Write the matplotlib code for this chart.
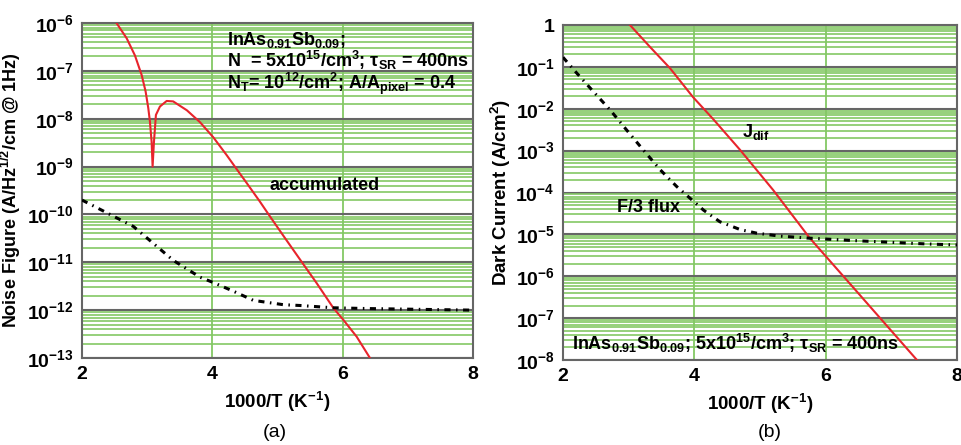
import numpy as np
import matplotlib
matplotlib.use('Agg')
from matplotlib import pyplot as plt
from matplotlib.ticker import LogLocator, FixedLocator, FuncFormatter, NullFormatter

plt.rcParams['font.family'] = ['Liberation Sans', 'DejaVu Sans']
plt.rcParams['font.weight'] = 'bold'
plt.rcParams['axes.labelweight'] = 'bold'
plt.rcParams['mathtext.fontset'] = 'custom'
plt.rcParams['mathtext.rm'] = 'Liberation Sans:bold'
plt.rcParams['mathtext.bf'] = 'Liberation Sans:bold'
plt.rcParams['mathtext.it'] = 'Liberation Sans:bold'
plt.rcParams['mathtext.default'] = 'rm'

# (a) noise figure vs 1000/T
acc_x = [2.53, 2.686, 2.813, 2.916, 2.977, 3.018, 3.043, 3.069, 3.084, 3.105, 3.135,
         3.197, 3.30, 3.40, 3.61, 3.81, 4.015, 4.22, 4.40, 4.53, 4.73, 4.885, 5.09,
         5.40, 5.60, 5.86, 6.01, 6.215, 6.42]
acc_y = [1e-6, 4.8e-7, 2.1e-7, 8.2e-8, 3.7e-8, 1.66e-8, 8.7e-9, 3.3e-9, 1e-9, 3.3e-9,
         1.2e-8, 1.8e-8, 2.35e-8, 2.3e-8, 1.5e-8, 8.5e-9, 4.1e-9, 1.74e-9, 7.9e-10,
         4.5e-10, 1.86e-10, 9.1e-11, 3.6e-11, 9e-12, 3.7e-12, 1.1e-12, 6.3e-13,
         2.8e-13, 1e-13]
flux_a_x = [2.0, 2.79, 3.40, 3.81, 4.01, 4.32, 4.63, 5.09, 5.35, 5.86, 6.37, 8.0]
flux_a_y = [2e-10, 5.6e-11, 1.1e-11, 4.9e-12, 3.8e-12, 2.5e-12, 1.6e-12, 1.3e-12,
            1.25e-12, 1.12e-12, 1.08e-12, 1.0e-12]

# (b) dark current vs 1000/T
jdif_x = [3.02, 3.325, 3.63, 3.98, 4.29, 4.695, 5.20, 5.76, 6.27, 6.83, 7.39]
jdif_y = [1, 0.30, 9.3e-2, 1.9e-2, 5.6e-3, 1.05e-3, 1.15e-4, 8.1e-6, 1e-6,
          1e-7, 1e-8]
flux_b_x = [2.0, 2.21, 2.46, 2.72, 2.97, 3.22, 3.48, 3.73, 3.91, 4.14, 4.39, 4.70,
            4.95, 5.30, 5.76, 6.52, 7.54, 8.0]
flux_b_y = [0.17, 7.1e-2, 2.6e-2, 9.3e-3, 3.1e-3, 1.05e-3, 3.5e-4, 1.4e-4, 7.9e-5,
            3.8e-5, 2.0e-5, 1.3e-5, 1.07e-5, 9.1e-6, 8.1e-6, 7e-6, 5.9e-6, 5.6e-6]

red = '#e8242c'
green = '#84c865'
grey = '#666666'


def fmt_sci(v, pos):
    e = int(round(np.log10(v)))
    if e == 0:
        return '1'
    return '$10^{%d}$' % e


def style_axes(ax, ymin, ymax):
    ax.set_yscale('log')
    ax.set_xlim(2, 8)
    ax.set_ylim(ymin, ymax)
    ax.xaxis.set_major_locator(FixedLocator([2, 4, 6, 8]))
    ax.yaxis.set_major_locator(LogLocator(base=10, numticks=20))
    ax.yaxis.set_minor_locator(LogLocator(base=10, subs=np.arange(2, 10), numticks=20))
    ax.yaxis.set_minor_formatter(NullFormatter())
    ax.yaxis.set_major_formatter(FuncFormatter(fmt_sci))
    ax.grid(True, which='minor', axis='y', color=green, lw=1.2, zorder=0)
    ax.grid(True, which='major', axis='y', color=grey, lw=1.5, zorder=0)
    ax.grid(True, which='major', axis='x', color=green, lw=1.3, zorder=0)
    ax.tick_params(which='both', length=0, labelsize=14, pad=6)
    for s in ax.spines.values():
        s.set_color(grey)
        s.set_linewidth(1.5)
    ax.set_axisbelow(True)


dashdot = (0, (2, 1.8, 0.5, 1.8))

fig = plt.figure(figsize=(9.62, 4.45), dpi=100)

ax1 = fig.add_axes([0.0852, 0.1955, 0.4064, 0.7528])
style_axes(ax1, 1e-13, 1e-6)
ax1.plot(acc_x, acc_y, color=red, lw=1.5, zorder=3)
ax1.plot(flux_a_x, flux_a_y, color='black', lw=2.2, ls=dashdot, zorder=3)
ax1.set_xlabel('1000/T (K$^{-1}$)', fontsize=13.5, labelpad=5)
ax1.set_ylabel('Noise Figure (A/Hz$^{1/2}$/cm @ 1Hz)', fontsize=13, labelpad=3)
ax1.text(0.372, 0.934, 'InAs$_{0.91}$Sb$_{0.09}$;', transform=ax1.transAxes,
         fontsize=13, va='baseline')
ax1.text(0.372, 0.869, 'N  = 5x10$^{15}$/cm$^{3}$; τ$_{SR}$ = 400ns',
         transform=ax1.transAxes, fontsize=13, va='baseline')
ax1.text(0.372, 0.803, 'N$_{T}$= 10$^{12}$/cm$^{2}$; A/A$_{pixel}$ = 0.4',
         transform=ax1.transAxes, fontsize=13, va='baseline')
ax1.text(0.62, 0.515, 'accumulated', transform=ax1.transAxes, fontsize=13,
         ha='center', va='center')
fig.text(0.286, 0.018, '(a)', fontsize=14, fontweight='normal', ha='center')

ax2 = fig.add_axes([0.5852, 0.191, 0.4096, 0.7528])
style_axes(ax2, 1e-8, 1)
ax2.plot(jdif_x, jdif_y, color=red, lw=1.5, zorder=3)
ax2.plot(flux_b_x, flux_b_y, color='black', lw=2.2, ls=dashdot, zorder=3)
ax2.set_xlabel('1000/T (K$^{-1}$)', fontsize=13.5, labelpad=5)
ax2.set_ylabel('Dark Current (A/cm$^{2}$)', fontsize=13.5, labelpad=2)
ax2.text(0.455, 0.68, 'J$_{dif}$', transform=ax2.transAxes, fontsize=13,
         ha='left', va='center')
ax2.text(0.137, 0.454, 'F/3 flux', transform=ax2.transAxes, fontsize=13,
         ha='left', va='center')
ax2.text(0.023, 0.03, 'InAs$_{0.91}$Sb$_{0.09}$; 5x10$^{15}$/cm$^{3}$; τ$_{SR}$ = 400ns',
         transform=ax2.transAxes, fontsize=13, ha='left', va='baseline')
fig.text(0.80, 0.018, '(b)', fontsize=14, fontweight='normal', ha='center')

fig.savefig('out.png', dpi=100)
